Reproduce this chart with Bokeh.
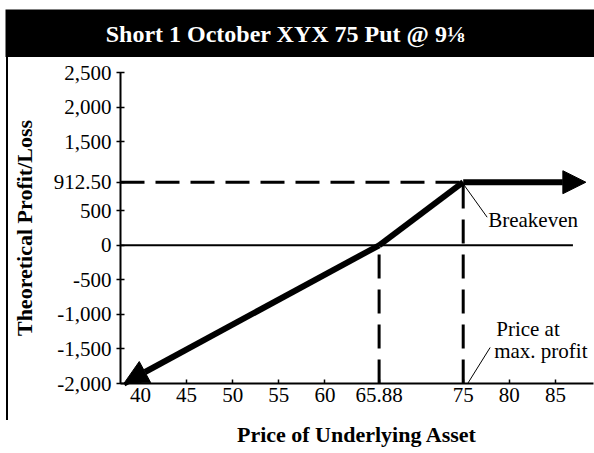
from bokeh.plotting import figure
from bokeh.layouts import column, row
from bokeh.models import (FixedTicker, Arrow, NormalHead, Label, Range1d, Div)
from bokeh.core.properties import value
from bokeh.embed import file_html
from bokeh.resources import INLINE

# ---------------- data ----------------
title_text = "Short 1 October XYX 75 Put @ 9\u215b"
x_label = "Price of Underlying Asset"
y_label = "Theoretical Profit/Loss"

x_ticks = [40, 45, 50, 55, 60, 65.88, 75, 80, 85]
x_tick_labels = ["40", "45", "50", "55", "60", "65.88", "75", "80", "85"]
y_ticks = [-2000, -1500, -1000, -500, 0, 500, 912.5, 1500, 2000, 2500]
y_tick_labels = ["-2,000", "-1,500", "-1,000", "-500", "0", "500", "912.50",
                 "1,500", "2,000", "2,500"]

# payoff line vertices (price, profit/loss)
payoff_x = [38.2, 65.88, 75, 88.3]
payoff_y = [-2000, 0, 912.5, 912.5]

breakeven_price = 65.88
strike = 75
max_profit = 912.5
zero_line_end = 86.9

FONT = "Liberation Serif"

# ---------------- title bar ----------------
tf = figure(width=594, height=57, x_range=Range1d(5, 594), y_range=Range1d(0, 48),
            toolbar_location=None, output_backend="svg",
            min_border_left=5, min_border_top=9, min_border_right=0,
            min_border_bottom=0)
tf.axis.visible = False
tf.grid.visible = False
tf.outline_line_color = None
tf.background_fill_color = "black"
tf.border_fill_color = "white"
tf.text(x=[285], y=[24], text=[title_text], text_color="white",
        text_font=value(FONT), text_font_style="bold", text_font_size="24px",
        text_align="center", text_baseline="middle")

# ---------------- left border strip ----------------
bf = Div(text="", width=2, height=363, margin=(0, 0, 0, 6),
         styles={"background-color": "black"})

# ---------------- main chart ----------------
x0, x1 = 37.835, 89.13
p = figure(width=586, height=396, x_range=Range1d(x0, x1),
           y_range=Range1d(-2000, 2500),
           toolbar_location=None, output_backend="svg",
           min_border_left=111, min_border_right=1,
           min_border_top=15, min_border_bottom=70)
p.grid.visible = False
p.outline_line_color = None
p.background_fill_color = "white"
p.border_fill_color = "white"

# axes
p.xaxis.ticker = FixedTicker(ticks=x_ticks)
p.xaxis.major_label_overrides = {t: l for t, l in zip(x_ticks, x_tick_labels)}
p.yaxis.ticker = FixedTicker(ticks=y_ticks)
p.yaxis.major_label_overrides = {t: l for t, l in zip(y_ticks, y_tick_labels)}
for ax in (p.xaxis[0], p.yaxis[0]):
    ax.axis_line_width = 2
    ax.axis_line_color = "black"
    ax.major_tick_line_width = 1.5
    ax.major_tick_line_color = "black"
    ax.minor_tick_line_color = None
    ax.major_label_text_font = FONT
    ax.major_label_text_font_size = "21px"
    ax.major_label_text_color = "black"
    ax.axis_label_text_font = FONT
    ax.axis_label_text_font_style = "bold"
    ax.axis_label_text_font_size = "22px"
    ax.axis_label_text_color = "black"
p.xaxis.major_tick_in = 4
p.xaxis.major_tick_out = 0
p.xaxis.major_label_standoff = 4
p.xaxis.axis_label = x_label
p.xaxis.axis_label_standoff = 17
p.yaxis.major_tick_in = 4
p.yaxis.major_tick_out = 4
p.yaxis.major_label_standoff = 5
p.yaxis.axis_label = y_label
p.yaxis.axis_label_standoff = 14

# zero line
p.segment(x0=[x0], y0=[0], x1=[zero_line_end], y1=[0],
          line_color="black", line_width=2)

# dashed guide lines
dash = "24 11"
p.segment(x0=[x0], y0=[max_profit], x1=[strike], y1=[max_profit],
          line_color="black", line_width=3, line_dash=dash)
p.segment(x0=[strike], y0=[-2000], x1=[strike], y1=[max_profit],
          line_color="black", line_width=3, line_dash=dash)
p.segment(x0=[breakeven_price], y0=[-2000], x1=[breakeven_price], y1=[0],
          line_color="black", line_width=3, line_dash=dash)

# payoff line with arrow heads
p.line(payoff_x[1:3], payoff_y[1:3], line_color="black", line_width=6,
       line_join="round")
p.add_layout(Arrow(x_start=payoff_x[1], y_start=payoff_y[1],
                   x_end=payoff_x[0], y_end=payoff_y[0],
                   line_color="black", line_width=6,
                   end=NormalHead(size=24, fill_color="black",
                                  line_color="black")))
p.add_layout(Arrow(x_start=payoff_x[2], y_start=payoff_y[2],
                   x_end=payoff_x[3], y_end=payoff_y[3],
                   line_color="black", line_width=6,
                   end=NormalHead(size=23, fill_color="black",
                                  line_color="black")))

# annotations: pixel offsets converted to data units
sx = 474 / (x1 - x0)
sy = 311 / 4500.0


def dx(px):
    return px / sx


def dy(px):
    return px / sy


# Breakeven leader line and label
p.segment(x0=[strike + dx(1)], y0=[max_profit - dy(3)],
          x1=[strike + dx(24)], y1=[max_profit - dy(35)],
          line_color="black", line_width=1)
p.add_layout(Label(x=strike, y=max_profit, x_offset=25, y_offset=-38,
                   text="Breakeven", text_font=FONT, text_font_size="21px",
                   text_color="black", text_baseline="middle",
                   text_align="left"))

# Price at max. profit leader line and label
p.segment(x0=[strike + dx(2)], y0=[-2000 + dy(-4)],
          x1=[strike + dx(27)], y1=[-2000 + dy(36)],
          line_color="black", line_width=1)
p.add_layout(Label(x=strike, y=-2000, x_offset=33, y_offset=55,
                   text="Price at", text_font=FONT, text_font_size="21px",
                   text_color="black", text_baseline="middle",
                   text_align="left"))
p.add_layout(Label(x=strike, y=-2000, x_offset=31, y_offset=33,
                   text="max. profit", text_font=FONT, text_font_size="21px",
                   text_color="black", text_baseline="middle",
                   text_align="left"))

layout = column(tf, row(bf, p, spacing=0), spacing=0)

open("out.html", "w").write(file_html(layout, INLINE))
